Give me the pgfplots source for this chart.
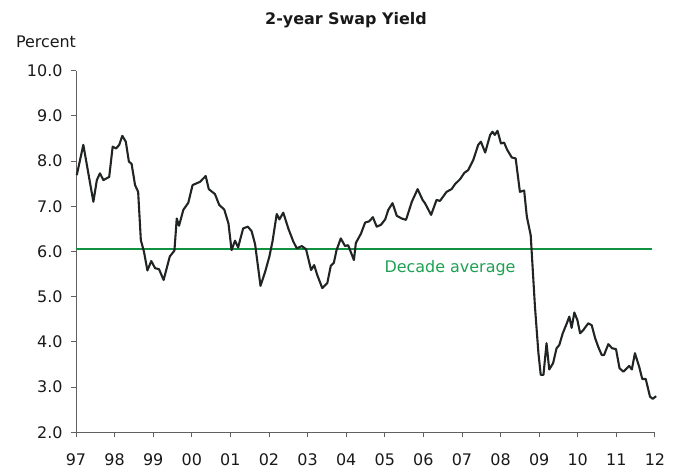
\documentclass[border=0pt]{standalone}
\usepackage{pgfplots}
\pgfplotsset{compat=1.18}
\usepackage{fontspec}
\setmainfont{DejaVu Sans}
\definecolor{lineblk}{RGB}{32,36,36}
\definecolor{avggreen}{RGB}{16,146,64}
\definecolor{txtgreen}{RGB}{30,160,82}
\definecolor{axgray}{RGB}{96,96,96}
\definecolor{txt}{RGB}{25,25,25}

% monthly-ish readings of the 2-year swap yield, x in decimal years
\pgfplotstableread{
x y
1997.02 7.69
1997.19 8.36
1997.45 7.10
1997.54 7.58
1997.62 7.73
1997.71 7.58
1997.86 7.65
1997.95 8.32
1998.04 8.28
1998.12 8.36
1998.20 8.56
1998.29 8.43
1998.37 7.99
1998.44 7.94
1998.53 7.47
1998.61 7.32
1998.68 6.25
1998.76 6.00
1998.85 5.58
1998.95 5.79
1999.05 5.63
1999.15 5.61
1999.27 5.37
1999.43 5.89
1999.55 6.02
1999.61 6.73
1999.67 6.57
1999.78 6.92
1999.91 7.08
2000.02 7.47
2000.21 7.54
2000.36 7.67
2000.44 7.38
2000.60 7.27
2000.71 7.03
2000.84 6.93
2000.95 6.62
2001.03 6.03
2001.12 6.24
2001.20 6.09
2001.33 6.51
2001.45 6.55
2001.55 6.45
2001.64 6.16
2001.78 5.24
2001.90 5.55
2002.01 5.89
2002.09 6.22
2002.20 6.83
2002.27 6.71
2002.37 6.86
2002.50 6.51
2002.63 6.22
2002.72 6.07
2002.85 6.12
2002.96 6.05
2003.09 5.59
2003.17 5.70
2003.25 5.48
2003.38 5.19
2003.51 5.30
2003.60 5.68
2003.68 5.75
2003.75 6.03
2003.86 6.29
2003.97 6.12
2004.05 6.14
2004.20 5.81
2004.25 6.19
2004.38 6.39
2004.49 6.64
2004.60 6.67
2004.69 6.76
2004.79 6.55
2004.90 6.59
2005.01 6.71
2005.09 6.92
2005.20 7.07
2005.31 6.79
2005.44 6.73
2005.55 6.70
2005.70 7.10
2005.85 7.38
2005.98 7.14
2006.04 7.07
2006.20 6.81
2006.34 7.14
2006.43 7.12
2006.60 7.32
2006.73 7.38
2006.82 7.49
2006.95 7.60
2007.06 7.74
2007.16 7.80
2007.29 8.02
2007.42 8.36
2007.49 8.43
2007.60 8.19
2007.73 8.58
2007.79 8.65
2007.85 8.58
2007.92 8.67
2008.01 8.39
2008.09 8.41
2008.17 8.25
2008.29 8.08
2008.39 8.06
2008.50 7.32
2008.61 7.35
2008.68 6.77
2008.78 6.36
2008.89 4.78
2008.98 3.75
2009.04 3.27
2009.11 3.27
2009.19 3.97
2009.26 3.39
2009.36 3.53
2009.45 3.86
2009.52 3.93
2009.61 4.19
2009.71 4.40
2009.78 4.56
2009.84 4.31
2009.91 4.65
2009.99 4.48
2010.06 4.19
2010.14 4.26
2010.27 4.41
2010.36 4.37
2010.45 4.08
2010.53 3.89
2010.62 3.71
2010.68 3.71
2010.79 3.95
2010.89 3.86
2010.99 3.84
2011.08 3.42
2011.18 3.34
2011.33 3.47
2011.40 3.39
2011.48 3.75
2011.59 3.45
2011.67 3.18
2011.76 3.18
2011.87 2.79
2011.94 2.74
2012.03 2.80
}\swapdata

\begin{document}
\begin{tikzpicture}
\begin{axis}[
	name=ax,
	at={(0,0)}, anchor=south west,
	scale only axis,
	width=579bp, height=361.6bp,
	xmin=1997, xmax=2012,
	ymin=2, ymax=10,
	clip=false,
	axis x line=bottom, axis y line=left,
	axis line style={-, axgray, line width=0.9pt},
	tick style={axgray, line width=0.9pt},
	tick align=outside,
	major tick length=5bp,
	xtick={1997,...,2012},
	xticklabels={97,98,99,00,01,02,03,04,05,06,07,08,09,10,11,12},
	ytick={2,...,10},
	/pgf/number format/assume math mode=true,
	ticklabel style={font=\fontsize{16}{19}\selectfont, text=txt},
	xticklabel style={yshift=-13bp},
	yticklabel style={xshift=-5bp, /pgf/number format/.cd, fixed, fixed zerofill, precision=1},
]
\addplot[avggreen, line width=2.2pt] coordinates {(1997,6.05) (2011.92,6.05)};
\addplot[lineblk, line width=2.1pt, line join=round] table {\swapdata};
\node[text=txtgreen, font=\fontsize{16}{19}\selectfont] at (axis cs:2006.69,5.63) {Decade average};
\end{axis}
\path[use as bounding box] (ax.south west) ++(-76bp,-35.7bp) rectangle ++(680bp,468bp);
\node[font=\fontsize{16}{19}\bfseries, text=txt] at ([shift={(270bp,412.3bp)}]ax.south west) {2-year Swap Yield};
\node[font=\fontsize{16}{19}\selectfont, text=txt] at ([shift={(-30bp,390.3bp)}]ax.south west) {Percent};
\end{tikzpicture}
\end{document}
